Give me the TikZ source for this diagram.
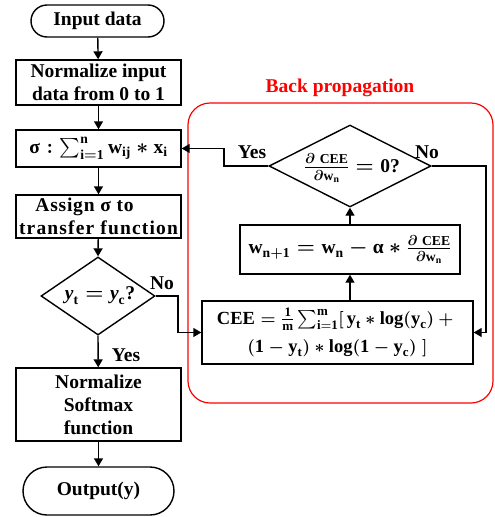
\documentclass[tikz,border=0pt]{standalone}
\usepackage{amsmath,amssymb}
\usepackage{fontspec}
\setmainfont{Liberation Serif}
\usetikzlibrary{shapes.geometric,arrows.meta}
\newcommand\tb[1]{\text{\bfseries #1}}
\begin{document}
\begin{tikzpicture}[x=1pt,y=-1pt,
  every node/.style={font=\fontsize{19.5}{23}\selectfont\bfseries\boldmath},
  box/.style={draw,line width=1.4pt,rectangle,inner sep=0pt,align=center},
  term/.style={draw,line width=1.4pt,rectangle,rounded corners=16pt,inner sep=0pt},
  dia/.style={draw,line width=1.4pt,diamond,inner sep=0pt},
  arr/.style={line width=1.4pt,-{Triangle[length=8pt,width=9pt]}},
  lab/.style={inner sep=0pt}]
\useasboundingbox (0,0) rectangle (495,517);
% red frame
\draw[red,line width=1.2pt,rounded corners=22pt] (188,103) rectangle (493,403);
\node[lab,text=red] (title) at (340,88) {Back propagation};
% left column
\node[term,minimum width=133pt,minimum height=32pt] (inp) at (97.5,21) {Input data};
\node[box,minimum width=165pt,minimum height=45pt] (norm) at (98.5,82.5) {Normalize input\\data from 0 to 1};
\node[box,minimum width=165pt,minimum height=37pt] (sig) at (98.5,148.5) {$\tb{σ} : \sum_{\tb{i}=\tb{1}}^{\tb{n}} \tb{w}_{\tb{ij}} * \tb{x}_{\tb{i}}$};
\node[box,minimum width=165pt,minimum height=43pt] (assign) at (98.5,216.5) {{\addfontfeatures{LetterSpace=4}Assign σ to}\hspace*{28pt}\\{\addfontfeatures{LetterSpace=6}transfer function}};
\node[dia,minimum width=114pt,minimum height=78pt] (d1) at (98,296) {};
\node[lab] (d1t) at (100,296) {$\tb{\itshape y}_{\tb{t}} = \tb{\itshape y}_{\tb{c}}$?};
\node[box,minimum width=165pt,minimum height=73pt] (soft) at (98.5,404.5) {Normalize\\Softmax\\function};
\node[term,rounded corners=24pt,minimum width=151pt,minimum height=48pt] (out) at (98.5,491) {Output(y)};
% right part
\node[dia,minimum width=162pt,minimum height=82pt] (d2) at (350,166) {};
\node[lab] (d2t) at (352,168) {$\frac{\partial\;\tb{CEE}}{\partial \tb{w}_{\tb{n}}} = \tb{0?}$};
\node[box,minimum width=220pt,minimum height=49pt] (wb) at (350,249.5) {$\tb{w}_{\tb{n}+\tb{1}} = \tb{w}_{\tb{n}} - \tb{α} * \frac{\partial\;\tb{CEE}}{\partial \tb{w}_{\tb{n}}}$};
\node[box,minimum width=271pt,minimum height=63pt,font=\fontsize{18.5}{28}\selectfont\bfseries\boldmath] (cee) at (337.5,332.5) {$\tb{CEE} = \frac{\tb{1}}{\tb{m}}\sum_{\tb{i}=\tb{1}}^{\tb{m}}[\, \tb{y}_{\tb{t}} * \tb{log}(\tb{y}_{\tb{c}}) +{}$\\$(\tb{1} - \tb{y}_{\tb{t}}) * \tb{log}(\tb{1} - \tb{y}_{\tb{c}})\;]$};
% labels
\node[lab] (y1) at (126,355) {Yes};
\node[lab] (n1) at (162,283) {No};
\node[lab] (y2) at (252,152) {Yes};
\node[lab] (n2) at (427,152) {No};
% coordinates
\coordinate (c1) at (178,296);
\coordinate (c2) at (224,166);
\coordinate (c3) at (486,166);
% connectors
\draw[arr] (inp) -- (norm);
\draw[arr] (norm) -- (sig);
\draw[arr] (sig) -- (assign);
\draw[arr] (assign) -- (d1.north);
\draw[arr] (d1.south) -- (soft);
\draw[arr] (soft) -- (out);
\draw[arr] (d1.east) -- (c1) |- (cee.west);
\draw[arr] (cee.north -| wb) -- (wb.south);
\draw[arr] (wb) -- (d2.south);
\draw[arr] (d2.west) -- (c2) |- (sig.east);
\draw[arr] (d2.east) -- (c3) |- (cee.east);
\end{tikzpicture}
\end{document}
